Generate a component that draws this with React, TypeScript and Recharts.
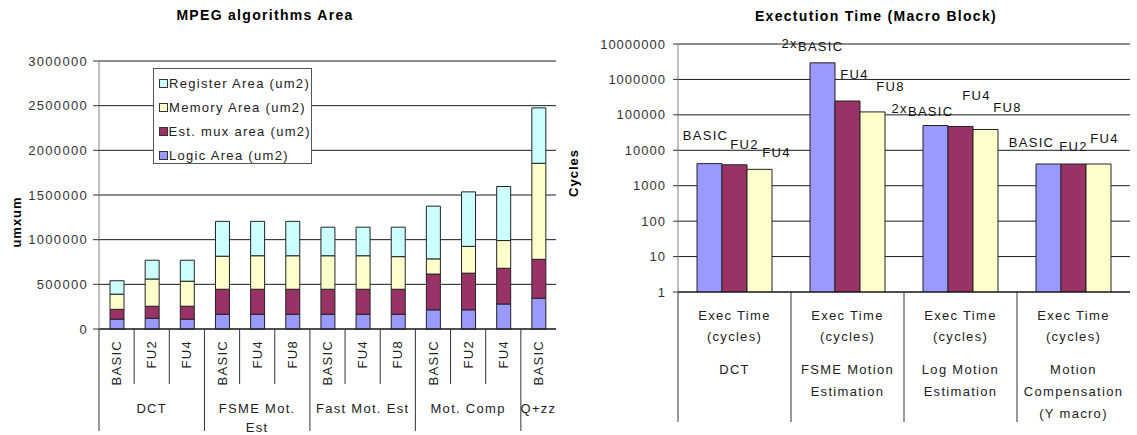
import React from "react";
import { BarChart, Bar, XAxis, YAxis, CartesianGrid, Legend, LabelList } from "recharts";

const FONT = "'Liberation Sans', Arial, sans-serif";
const INK = "#222";

// ---- MPEG algorithms area (stacked) ----
const areaConfigs = ["BASIC", "FU2", "FU4", "BASIC", "FU4", "FU8", "BASIC", "FU4", "FU8", "BASIC", "FU2", "FU4", "BASIC"];
const areaGroupNames = ["DCT", "FSME Mot.\nEst", "Fast Mot. Est", "Mot. Comp", "Q+zz"];
const areaGroupSizes = [3, 3, 3, 3, 1];
const logicArea = [110000, 120000, 110000, 165000, 165000, 165000, 165000, 165000, 165000, 215000, 215000, 280000, 345000];
const muxArea = [110000, 135000, 145000, 280000, 280000, 280000, 280000, 280000, 280000, 400000, 410000, 400000, 435000];
const memoryArea = [170000, 305000, 280000, 370000, 375000, 375000, 375000, 375000, 365000, 170000, 300000, 310000, 1075000];
const registerArea = [150000, 210000, 235000, 390000, 385000, 385000, 320000, 320000, 330000, 590000, 610000, 605000, 620000];
const areaTicks = [0, 500000, 1000000, 1500000, 2000000, 2500000, 3000000];
const areaSeriesNames = {
  logic: "Logic Area (um2)",
  mux: "Est. mux area (um2)",
  memory: "Memory Area (um2)",
  register: "Register Area (um2)",
};
// legend reads top-down from the top of the stack
const areaLegendOrder = ["register", "memory", "mux", "logic"];

// ---- Execution time per macro block (log scale) ----
const execMetric = "Exec Time\n(cycles)";
const execGroups = ["DCT", "FSME Motion\nEstimation", "Log Motion\nEstimation", "Motion\nCompensation\n(Y macro)"];
const basicCycles = [4200, 2940000, 50000, 4100];
const midCycles = [3900, 246000, 47000, 4100];
const highCycles = [2900, 121000, 38700, 4100];
const basicNames = ["BASIC", "2xBASIC", "2xBASIC", "BASIC"];
const midNames = ["FU2", "FU4", "FU4", "FU2"];
const highNames = ["FU4", "FU8", "FU8", "FU4"];
const cycleTicks = [1, 10, 100, 1000, 10000, 100000, 1000000, 10000000];

const COLORS: Record<string, string> = {
  logic: "#9999FF",
  mux: "#993366",
  memory: "#FFFFCC",
  register: "#CCFFFF",
};

const areaData = areaConfigs.map((cfg, i) => ({
  cfg,
  logic: logicArea[i],
  mux: muxArea[i],
  memory: memoryArea[i],
  register: registerArea[i],
}));

const execData = execGroups.map((g, i) => ({
  group: g,
  basic: basicCycles[i],
  mid: midCycles[i],
  high: highCycles[i],
}));

// layout of the left chart
const L_W = 560;
const L_H = 435;
const L_YAXIS_W = 99;
const L_XAXIS_H = 106;
const L_RIGHT = 4;
const L_BAND = (L_W - L_YAXIS_W - L_RIGHT) / areaConfigs.length;
const L_BOTTOM = L_H - L_XAXIS_H;

// layout of the right chart
const R_LEFT = 560;
const R_W = 577;
const R_H = 435;
const R_YAXIS_W = 118;
const R_XAXIS_H = 143;
const R_RIGHT = 7;
const R_BAND = (R_W - R_YAXIS_W - R_RIGHT) / execGroups.length;
const R_BOTTOM = R_H - R_XAXIS_H;

const groupStarts: number[] = [];
areaGroupSizes.reduce((acc, n) => {
  groupStarts.push(acc);
  return acc + n;
}, 0);

const textStyle = { fontFamily: FONT, fontSize: 13, fill: INK, letterSpacing: 1.3 };

function AreaTick({ x, payload }: any) {
  const i = payload.index;
  const left = x - L_BAND / 2;
  const g = groupStarts.indexOf(i);
  const isStart = g >= 0;
  return (
    <g>
      <line x1={left} x2={left} y1={L_BOTTOM} y2={isStart ? 431 : 384} stroke="#333" />
      <text
        x={x}
        y={340}
        transform={`rotate(-90 ${x} 340)`}
        textAnchor="end"
        dy="0.35em"
        style={textStyle}
      >
        {payload.value}
      </text>
      {isStart && (
        <text
          x={left + (areaGroupSizes[g] * L_BAND) / 2}
          y={413}
          textAnchor="middle"
          style={textStyle}
        >
          {areaGroupNames[g].split("\n").map((line, k) => (
            <tspan key={k} x={left + (areaGroupSizes[g] * L_BAND) / 2} dy={k === 0 ? 0 : 19}>
              {line}
            </tspan>
          ))}
        </text>
      )}
    </g>
  );
}

function ExecTick({ x, payload }: any) {
  const left = x - R_BAND / 2;
  return (
    <g>
      <line x1={left} x2={left} y1={R_BOTTOM} y2={422} stroke="#333" />
      <text x={x} y={320} textAnchor="middle" style={textStyle}>
        {execMetric.split("\n").map((line, k) => (
          <tspan key={k} x={x} dy={k === 0 ? 0 : 21}>
            {line}
          </tspan>
        ))}
      </text>
      <text x={x} y={374} textAnchor="middle" style={textStyle}>
        {String(payload.value)
          .split("\n")
          .map((line, k) => (
            <tspan key={k} x={x} dy={k === 0 ? 0 : 22}>
              {line}
            </tspan>
          ))}
      </text>
    </g>
  );
}

function AreaLegend() {
  return (
    <div
      style={{
        width: 159,
        height: 96,
        border: "1px solid #555",
        background: "#fff",
        boxSizing: "border-box",
        paddingTop: 2,
        fontFamily: FONT,
        fontSize: 13,
        letterSpacing: 1.3,
        color: INK,
      }}
    >
      {areaLegendOrder.map((key) => (
        <div key={key} style={{ display: "flex", alignItems: "center", height: 24, paddingLeft: 5 }}>
          <span
            style={{
              display: "inline-block",
              width: 7,
              height: 7,
              background: COLORS[key],
              border: "1px solid #333",
              marginRight: 1,
            }}
          />
          <span style={{ whiteSpace: "nowrap" }}>{(areaSeriesNames as any)[key]}</span>
        </div>
      ))}
    </div>
  );
}

// per-label nudges (dx, dy from bar top centre) for the config names above the bars
const basicNudge = [[-4, -29], [-10, -20], [-13, -18], [-17, -22]];
const midNudge = [[10, -21], [7, -27], [16, -31], [0, -18]];
const highNudge = [[17, -17], [18, -26], [22, -22], [6, -26]];

function makeConfigLabel(names: string[], nudge: number[][]) {
  return (props: any) => {
    const { x, y, width, index } = props;
    const cx = x + width / 2 + nudge[index][0];
    const cy = y + nudge[index][1] + 5;
    const name = names[index];
    const prefix = name.startsWith("2x") ? "2x" : "";
    const rest = prefix ? name.slice(2) : name;
    return (
      <text x={cx} y={cy} textAnchor="middle" style={{ ...textStyle, fill: "#111" }}>
        {prefix && <tspan>{prefix}</tspan>}
        {prefix ? <tspan dy={3}>{rest}</tspan> : rest}
      </text>
    );
  };
}

function AreaChart() {
  return (
    <BarChart
      width={L_W}
      height={L_H}
      data={areaData}
      margin={{ top: 61, right: L_RIGHT, left: 0, bottom: 0 }}
      barSize={14}
    >
      <CartesianGrid vertical={false} stroke="#1a1a1a" />
      <XAxis
        dataKey="cfg"
        height={L_XAXIS_H}
        axisLine={{ stroke: "#111" }}
        tickLine={false}
        interval={0}
        tick={<AreaTick />}
      />
      <YAxis
        width={L_YAXIS_W}
        domain={[0, 3000000]}
        ticks={areaTicks}
        interval={0}
        axisLine={{ stroke: "#808080" }}
        tickLine={{ stroke: "#333" }}
        tickSize={6}
        tickMargin={5}
        tick={{ ...textStyle, fill: "#333" }}
      />
      <Legend
        layout="vertical"
        align="center"
        verticalAlign="middle"
        wrapperStyle={{ left: 153, top: 68, width: 159 }}
        content={<AreaLegend />}
      />
      <Bar dataKey="logic" name={areaSeriesNames.logic} stackId="a" fill={COLORS.logic} stroke="#222" isAnimationActive={false} />
      <Bar dataKey="mux" name={areaSeriesNames.mux} stackId="a" fill={COLORS.mux} stroke="#222" isAnimationActive={false} />
      <Bar dataKey="memory" name={areaSeriesNames.memory} stackId="a" fill={COLORS.memory} stroke="#222" isAnimationActive={false} />
      <Bar dataKey="register" name={areaSeriesNames.register} stackId="a" fill={COLORS.register} stroke="#222" isAnimationActive={false} />
    </BarChart>
  );
}

function ExecChart() {
  return (
    <BarChart
      width={R_W}
      height={R_H}
      data={execData}
      margin={{ top: 44, right: R_RIGHT, left: 0, bottom: 0 }}
      barGap={0}
      barCategoryGap={19}
    >
      <CartesianGrid vertical={false} stroke="#1a1a1a" />
      <XAxis
        dataKey="group"
        height={R_XAXIS_H}
        axisLine={{ stroke: "#111" }}
        tickLine={false}
        interval={0}
        tick={<ExecTick />}
      />
      <YAxis
        width={R_YAXIS_W}
        scale="log"
        domain={[1, 10000000]}
        ticks={cycleTicks}
        interval={0}
        allowDataOverflow
        axisLine={{ stroke: "#808080" }}
        tickLine={{ stroke: "#333" }}
        tickSize={5}
        tickMargin={7}
        tick={{ ...textStyle, fill: "#333", letterSpacing: 1 }}
      />
      <Bar dataKey="basic" fill={COLORS.logic} stroke="#222" isAnimationActive={false}>
        <LabelList dataKey="basic" content={makeConfigLabel(basicNames, basicNudge)} />
      </Bar>
      <Bar dataKey="mid" fill={COLORS.mux} stroke="#222" isAnimationActive={false}>
        <LabelList dataKey="mid" content={makeConfigLabel(midNames, midNudge)} />
      </Bar>
      <Bar dataKey="high" fill={COLORS.memory} stroke="#222" isAnimationActive={false}>
        <LabelList dataKey="high" content={makeConfigLabel(highNames, highNudge)} />
      </Bar>
    </BarChart>
  );
}

export default function App() {
  const titleStyle = { fontFamily: FONT, fontSize: 14, fontWeight: 700, fill: "#000", letterSpacing: 1.3 };
  return (
    <div style={{ position: "absolute", left: 0, top: 0, width: 1137, height: 435, background: "#fff", overflow: "hidden" }}>
      <div style={{ position: "absolute", left: 0, top: 0 }}>
        <AreaChart />
      </div>
      <div style={{ position: "absolute", left: R_LEFT, top: 0 }}>
        <ExecChart />
      </div>
      <svg width={1137} height={435} style={{ position: "absolute", left: 0, top: 0, pointerEvents: "none" }}>
        <text x={265} y={20} textAnchor="middle" style={titleStyle}>
          MPEG algorithms Area
        </text>
        <text x={876} y={21} textAnchor="middle" style={titleStyle}>
          Exectution Time (Macro Block)
        </text>
        <text x={16} y={222} transform="rotate(-90 16 222)" textAnchor="middle" dy="0.35em" style={{ ...titleStyle, fontSize: 13, letterSpacing: 1 }}>
          umxum
        </text>
        <text x={573} y={173} transform="rotate(-90 573 173)" textAnchor="middle" dy="0.35em" style={{ ...titleStyle, fontSize: 13, letterSpacing: 1 }}>
          Cycles
        </text>
      </svg>
    </div>
  );
}
